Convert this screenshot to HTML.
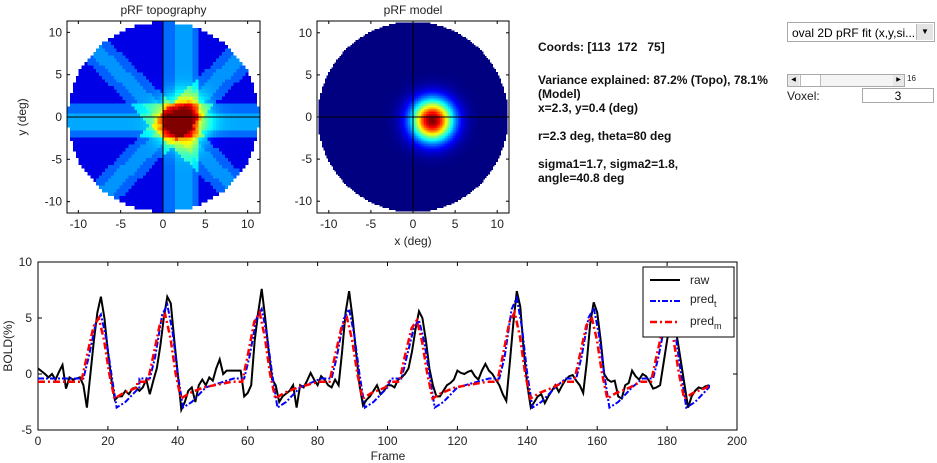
<!DOCTYPE html>
<html><head><meta charset="utf-8"><style>
body{margin:0;background:#fff;width:937px;height:463px;overflow:hidden;position:relative;font-family:"Liberation Sans",Arial,sans-serif}
.t{position:absolute;font-size:12px;color:#222}
canvas{position:absolute;image-rendering:pixelated}
.info{position:absolute;left:538px;font-size:12px;font-weight:bold;color:#111;line-height:14px}
</style></head><body>
<canvas id="c1" width="66" height="56" style="left:67px;top:21px;width:193px;height:192px"></canvas>
<canvas id="c2" width="120" height="120" style="left:317px;top:21px;width:192px;height:192px"></canvas>
<svg id="s" width="937" height="463" style="position:absolute;left:0;top:0" font-family="Liberation Sans, Arial, sans-serif" font-size="12"></svg>
<div class="info" style="top:40px">Coords: [113&nbsp; 172&nbsp;&nbsp; 75]</div>
<div class="info" style="top:73px">Variance explained: 87.2% (Topo), 78.1%<br>(Model)<br>x=2.3, y=0.4 (deg)</div>
<div class="info" style="top:129px">r=2.3 deg, theta=80 deg</div>
<div class="info" style="top:157px">sigma1=1.7, sigma2=1.8,<br>angle=40.8 deg</div>
<div style="position:absolute;left:787px;top:22px;width:148px;height:20px;border:1px solid #aaa;background:#fff;font-size:12px;line-height:20px;padding-left:4px;box-sizing:border-box">oval 2D pRF fit (x,y,si...
<div style="position:absolute;right:1px;top:1px;width:16px;height:16px;background:#e4e4e4;border-left:1px solid #bbb;font-size:8px;text-align:center;line-height:16px">&#9660;</div></div>
<div style="position:absolute;left:787px;top:74px;width:118px;height:13px;border:1px solid #aaa;background:#f4f4f4;box-sizing:border-box">
<div style="position:absolute;left:0;top:0;width:11px;height:11px;background:#e8e8e8;font-size:6px;text-align:center;line-height:11px">&#9664;</div>
<div style="position:absolute;left:12px;top:0;width:19px;height:11px;background:#fff;border-left:1px solid #bbb;border-right:1px solid #bbb"></div>
<div style="position:absolute;right:0;top:0;width:11px;height:11px;background:#e8e8e8;font-size:6px;text-align:center;line-height:11px">&#9654;</div></div>
<div class="t" style="left:907px;top:74px;font-size:8px">16</div>
<div class="t" style="left:787px;top:89px;font-size:12px">Voxel:</div>
<div style="position:absolute;left:862px;top:88px;width:72px;height:15px;border:1px solid #aaa;font-size:12px;text-align:center;line-height:14px;box-sizing:border-box">3</div>
<script>
function jet(v){v=Math.max(0,Math.min(1,v));
function f(x){return Math.max(0,Math.min(1,1.5-Math.abs(x)))}
return [f(4*v-3),f(4*v-2),f(4*v-1)].map(x=>Math.round(x*255));}
function draw(id,W,H,fn){var c=document.getElementById(id),g=c.getContext('2d'),im=g.createImageData(W,H);
for(var j=0;j<H;j++)for(var i=0;i<W;i++){var x=-11.4+(i+0.5)*22.8/W,y=11.4-(j+0.5)*22.8/H,k=4*(j*W+i);
if(x*x+y*y>11.3*11.3){im.data[k]=255;im.data[k+1]=255;im.data[k+2]=255;im.data[k+3]=255;continue;}
var col=jet(fn(x,y));im.data[k]=col[0];im.data[k+1]=col[1];im.data[k+2]=col[2];im.data[k+3]=255;}
g.putImageData(im,0,0);}
function band(d,w){return Math.abs(d)<w?1:0}
draw('c1',66,56,function(x,y){var v=0.1;
v+=0.13*band(y+0.5,2)+0.06*band(y+0.5,1);
v+=0.13*band(x-2,2)+0.05*band(x-2.3,1);
v+=0.12*band((x+y)/1.414,1.8)+0.05*band((x+y)/1.414,0.8);
v+=0.12*band((x-y-2)/1.414,1.8)+0.05*band((x-y-2)/1.414,0.8);
var r2=(x-2.3)*(x-2.3)+(y+0.4)*(y+0.4);v+=0.55*Math.exp(-r2/(2*1.8*1.8));return v;});
draw('c2',120,120,function(x,y){var r2=(x-2.3)*(x-2.3)+(y+0.4)*(y+0.4);return 1.0*Math.exp(-r2/(2*1.7*1.7));});
var s=document.getElementById('s'),h='';
function L(x1,y1,x2,y2,c,w,da){h+='<line x1="'+x1+'" y1="'+y1+'" x2="'+x2+'" y2="'+y2+'" stroke="'+(c||'#000')+'" stroke-width="'+(w||1)+'"'+(da?' stroke-dasharray="'+da+'"':'')+'/>';}
function T(x,y,t,a,extra){h+='<text x="'+x+'" y="'+y+'" text-anchor="'+(a||'middle')+'" fill="#222" '+(extra||'')+'>'+t+'</text>';}
function heatAxes(x0,x1,cx,title,xl,yl){var sc=(x1-x0)/22.8;var y0=21,y1=213,cy=117;
h+='<rect x="'+x0+'" y="'+y0+'" width="'+(x1-x0)+'" height="'+(y1-y0)+'" fill="none" stroke="#000"/>';
L(cx,y0,cx,y1);L(x0,cy,x1,cy);
[-10,-5,0,5,10].forEach(function(v){var px=cx+v*sc,py=cy-v*sc;L(px,y1,px,y1-3);L(px,y0,px,y0+3);L(x0,py,x0+3,py);L(x1,py,x1-3,py);
T(px,228,v);T(x0-5,py+4,v,'end');});
T((x0+x1)/2,14,title);if(xl)T((x0+x1)/2,245,xl);
if(yl)T(0,0,yl,'middle','transform="translate(26,'+cy+') rotate(-90)"');}
heatAxes(67,260,163,'pRF topography',null,'y (deg)');
heatAxes(317,509,413,'pRF model','x (deg)',null);
var X0=38,X1=737,Y0=262,Y1=430;
function px(f){return X0+f*(X1-X0)/200}function py(v){return Y0+(10-v)*(Y1-Y0)/15}
h+='<rect x="'+X0+'" y="'+Y0+'" width="'+(X1-X0)+'" height="'+(Y1-Y0)+'" fill="#fff" stroke="#000"/>';
for(var f=0;f<=200;f+=20){L(px(f),Y1,px(f),Y1-4);L(px(f),Y0,px(f),Y0+4);T(px(f),445,f);}
[-5,0,5,10].forEach(function(v){L(X0,py(v),X0+4,py(v));L(X1,py(v),X1-4,py(v));T(X0-6,py(v)+4,v,'end');});
T(388,460,'Frame');T(0,0,'BOLD(%)','middle','transform="translate(12,346) rotate(-90)"');
var raw=[[0,0.5],[2,0],[3,-0.3],[4,0],[5,-0.5],[6,0.2],[7,0.8],[8,-1.3],[9,-0.3],[10,-0.5],[12,-0.3],[13,-1],[14,-3],[15,0],[16,3],[17,5.5],[18,6.9],[19,5],[20,2],[21,-0.5],[22,-2.3],[23,-2],[24,-2],[25,-1.5],[26,-1.8],[27,-1.3],[28,-1.2],[29,-1.5],[30,-1.2],[31,-0.5],[32,-1.8],[33,-0.6],[34,0.5],[35,2.5],[36,5],[37,6.9],[38,6.3],[39,3],[40,0],[41,-3.2],[42,-2.5],[43,-1.5],[44,-1.2],[45,-2.5],[46,-1],[47,-0.5],[48,-1],[49,-0.3],[50,-0.6],[51,0.5],[52,1.3],[53,0],[54,0.3],[56,0.3],[58,0.3],[59,-2],[60,-1.7],[61,-1],[62,3],[63,5.5],[64,7.6],[65,5],[66,2],[67,-0.5],[68,-1],[69,-2.5],[70,-2],[72,-1.5],[73,-1],[74,-3],[75,-1],[76,-1.2],[77,-0.6],[78,0.1],[79,-0.5],[80,-1],[81,-0.2],[82,-0.5],[83,-1],[84,-1.2],[85,-0.5],[86,-1],[87,2],[88,5.5],[89,7.4],[90,5],[91,2],[92,-1],[93,-2.8],[94,-2.3],[95,-2],[96,-1.5],[97,-1],[98,-1.8],[99,-1.5],[100,-1],[101,-1],[102,-1.2],[103,-0.5],[104,-0.3],[105,0],[106,0.5],[107,2],[108,4],[109,5.6],[110,5],[111,3],[112,0.5],[113,-1],[114,-2],[115,-2],[116,-1.5],[117,-1],[118,-0.8],[119,-0.5],[120,0.3],[121,0.1],[122,0],[123,0.2],[124,0.3],[125,-0.2],[126,-0.5],[127,0.3],[128,0.9],[129,0.3],[130,0],[131,-0.5],[132,-1],[133,-1.8],[134,-2.4],[135,1],[136,4.5],[137,7.4],[138,6],[139,2],[140,-1],[141,-3],[142,-2.5],[143,-2],[144,-1.8],[145,-2.6],[146,-2],[147,-1.5],[148,-1],[149,-1.6],[150,-1],[151,-0.5],[152,-0.2],[153,-0.1],[154,-0.6],[155,-1],[156,-1.7],[157,1],[158,4.5],[159,6.4],[160,5.5],[161,3],[162,0],[163,-0.5],[164,-0.7],[165,-0.6],[166,-2],[167,-2.2],[168,-1],[169,-0.8],[170,0.3],[171,-0.2],[172,-0.5],[173,0],[174,-0.2],[175,-0.7],[176,-1.3],[177,-1.2],[178,-1],[179,1],[180,3],[181,5],[182,4.5],[183,3],[184,1],[185,-1],[186,-3],[187,-2],[188,-1.5],[189,-1.2],[190,-1.3],[191,-1.1],[192,-1]];
var peaks=[[18,5.3,5.0],[37,6.2,5.3],[64,5.8,5.5],[89,5.8,5.0],[109,4.8,4.8],[137,6.8,5.5],[159,5.9,5.1],[181,5.5,5.0]];
function pred(idx,base,tr,sh){var pts=[[0,base]];peaks.forEach(function(p,i){var f=p[0]+sh;pts.push([f-5,base],[f-3.5,1.5],[f-1.5,p[idx]*0.85],[f,p[idx]],[f+1.5,p[idx]*0.6],[f+3,0],[f+4.5,tr],[f+7,tr+0.5],[f+11,-1.2]);
if(i<peaks.length-1)pts.push([peaks[i+1][0]+sh-8,base]);});pts.push([192,-0.8]);return pts;}
function poly(pts,c,w,da){h+='<polyline fill="none" stroke="'+c+'" stroke-width="'+w+'"'+(da?' stroke-dasharray="'+da+'"':'')+' points="'+pts.map(function(p){return px(p[0]).toFixed(1)+','+py(p[1]).toFixed(1)}).join(' ')+'"/>';}
poly(raw,'#000',2);
poly(pred(1,-0.4,-3.0,0),'#0000ff',2,'6,2,2,2');
poly(pred(2,-0.7,-2.2,-0.6),'#ff0000',2.5,'7,3,2,3');
h+='<rect x="643" y="267" width="91" height="70" fill="#fff" stroke="#000"/>';
L(650,280,680,280,'#000',2);T(690,284,'raw','start');
L(650,301,680,301,'#00f',2,'6,2,2,2');T(690,303,'pred<tspan font-size="9" dy="4">t</tspan>','start');
L(650,322,680,322,'#f00',2.5,'7,3,2,3');T(690,325,'pred<tspan font-size="9" dy="4">m</tspan>','start');
s.innerHTML=h;
</script>
</body></html>
